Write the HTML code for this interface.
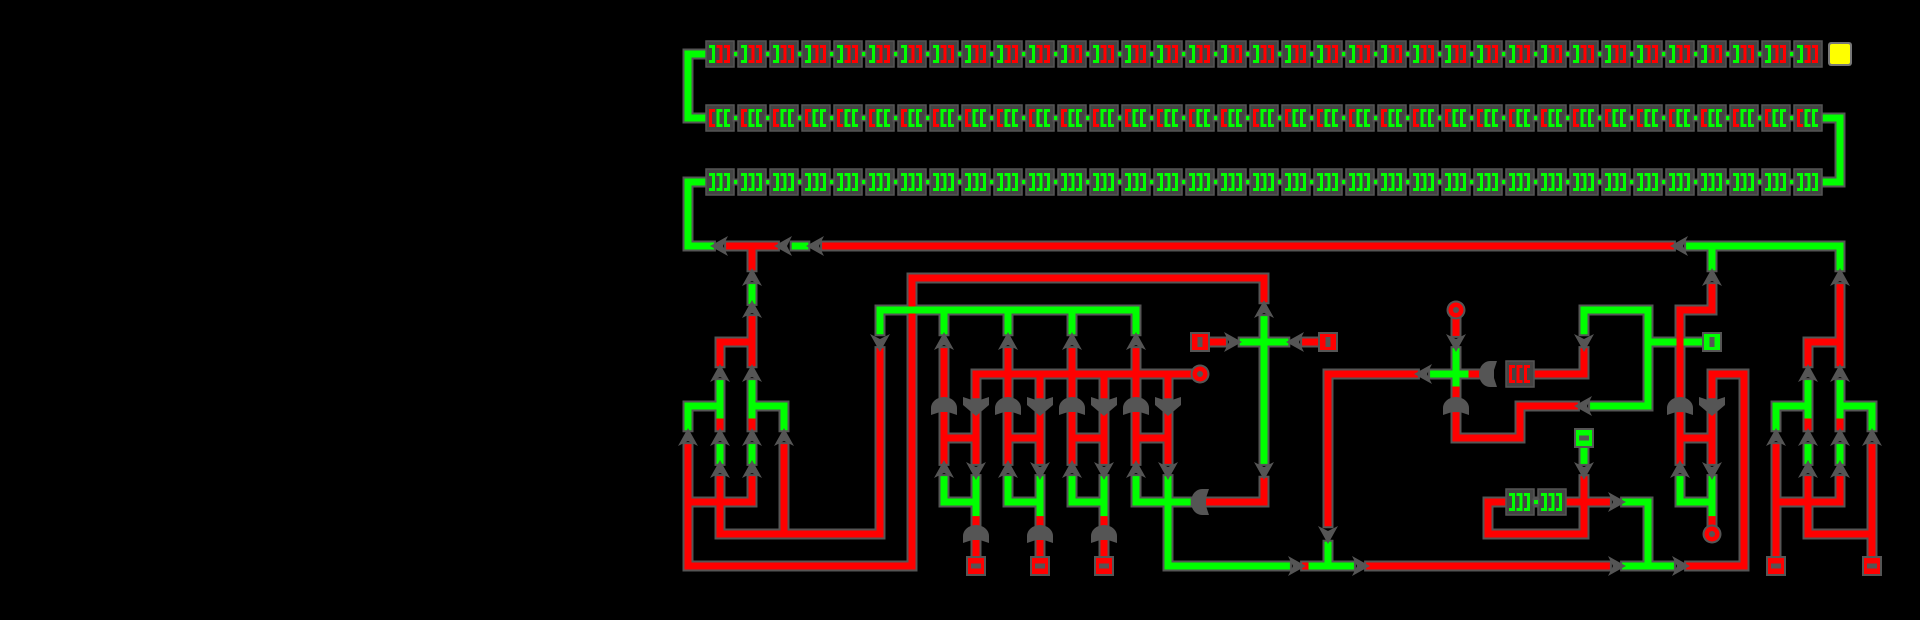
<!DOCTYPE html>
<html><head><meta charset="utf-8"><style>
html,body{margin:0;padding:0;background:#000;width:1920px;height:620px;overflow:hidden}
svg{display:block}
</style></head><body>
<svg id="s" width="1920" height="620" xmlns="http://www.w3.org/2000/svg"></svg>
<script>
const S=document.getElementById('s');const NS='http://www.w3.org/2000/svg';
const X=k=>688+32*k, Y=m=>246+32*m;
const R='#ff0000',G='#00ff00',GR='#555555';
function el(t,a){const e=document.createElementNS(NS,t);for(const k in a)e.setAttribute(k,a[k]);S.appendChild(e);return e;}
const W=[
[G,[[0.55,-6],[0,-6],[0,-4],[0.55,-4]]],
[G,[[35.45,-4],[36,-4],[36,-2],[35.45,-2]]],
[G,[[0.55,-2],[0,-2],[0,0],[0.7,0]]],
[R,[[1.3,0],[2.7,0]]],[R,[[2,0],[2,0.65]]],[G,[[3.35,0],[3.65,0]]],[R,[[4.3,0],[30.7,0]]],
[G,[[31.3,0],[36,0],[36,0.65]]],[G,[[32,0],[32,0.65]]],
[G,[[2,1.3],[2,1.7]]],[R,[[2,2.3],[2,3.65]]],[R,[[1,3.65],[1,3],[2,3]]],
[G,[[0,5.65],[0,5],[1,5]]],[G,[[1,4.3],[1,5.5]]],[R,[[1,5.5],[1,5.65]]],
[G,[[2,4.3],[2,5.5]]],[R,[[2,5.5],[2,5.65]]],[G,[[2,5],[3,5],[3,5.65]]],
[G,[[1,6.3],[1,6.7]]],[G,[[2,6.3],[2,6.7]]],
[R,[[0,6.3],[0,10],[7,10],[7,1],[18,1],[18,1.65]]],
[R,[[0,8],[2,8],[2,7.3]]],[R,[[1,7.3],[1,9],[6,9],[6,3.3]]],[R,[[3,6.3],[3,9]]],
[G,[[6,2.65],[6,2],[14,2],[14,2.65]]],[G,[[8,2],[8,2.65]]],[G,[[10,2],[10,2.65]]],[G,[[12,2],[12,2.65]]],
[R,[[9,4.65],[9,4],[15.7,4]]],[R,[[11,4],[11,4.65]]],[R,[[13,4],[13,4.65]]],[R,[[15,4],[15,4.65]]],
[G,[[14,7.3],[14,8],[15.6,8]]],[G,[[15,7.3],[15,10],[18.7,10]]],
[R,[[16.3,8],[18,8],[18,7.35]]],[G,[[18,6.7],[18,2.3]]],[G,[[17.35,3],[18.65,3]]],
[R,[[16.3,3],[16.7,3]]],[R,[[19.3,3],[19.7,3]]],
[R,[[20,8.65],[20,4],[22.7,4]]],[G,[[23.3,4],[24.5,4]]],[G,[[24,3.3],[24,4.5]]],[R,[[24,4.5],[24,4.7]]],
[R,[[24,2.25],[24,2.7]]],[R,[[24,5.3],[24,6],[26,6],[26,5],[27.7,5]]],
[G,[[28.3,5],[30,5],[30,2],[28,2],[28,2.65]]],[R,[[28,3.3],[28,4],[26.5,4]]],[R,[[24.5,4],[24.8,4]]],
[G,[[30,3],[31.7,3]]],
[G,[[28,6.3],[28,6.7]]],[R,[[28,7.3],[28,8]]],[R,[[25,8],[28.7,8]]],[R,[[25,8],[25,9],[28,9],[28,8]]],
[G,[[29.3,8],[30,8],[30,10]]],[G,[[29.3,10],[30.7,10]]],[R,[[21.3,10],[28.7,10]]],
[R,[[19.3,10],[19.5,10]]],[G,[[19.5,10],[20.7,10]]],[G,[[20,10],[20,9.35]]],
[R,[[31.3,10],[33,10],[33,4],[32,4],[32,4.65]]],
[R,[[32,1.3],[32,2],[31,2],[31,4.65]]],[R,[[31,5.3],[31,6.7]]],[R,[[32,5.3],[32,6.7]]],[R,[[31,6],[32,6]]],
[G,[[31,7.3],[31,8],[32,8]]],[G,[[32,7.3],[32,8.55]]],[R,[[32,8.55],[32,8.75]]],
[R,[[36,1.3],[36,3.65]]],[R,[[35,3.65],[35,3],[36,3]]],
[G,[[34,5.65],[34,5],[35,5]]],[G,[[35,4.3],[35,5.5]]],[R,[[35,5.5],[35,5.65]]],
[G,[[36,4.3],[36,5.5]]],[R,[[36,5.5],[36,5.65]]],[G,[[36,5],[37,5],[37,5.65]]],
[G,[[35,6.3],[35,6.7]]],[G,[[36,6.3],[36,6.7]]],
[R,[[34,6.3],[34,9.8]]],[R,[[35,7.3],[35,9],[37,9]]],[R,[[36,7.3],[36,8],[34,8]]],[R,[[37,6.3],[37,9.8]]]
];
for(const k of [8,10,12,14]){W.push([R,[[k,3.3],[k,6.7]]]);W.push([R,[[k+1,5.3],[k+1,6.7]]]);W.push([R,[[k,6],[k+1,6]]]);}
for(const k of [9,11,13]){W.push([G,[[k-1,7.3],[k-1,8],[k,8]]]);W.push([G,[[k,7.3],[k,8.55]]]);W.push([R,[[k,8.55],[k,8.75]]]);W.push([R,[[k,9.2],[k,9.8]]]);}
const pts=p=>p.map(q=>X(q[0])+','+Y(q[1])).join(' ');
for(const w of W)el('polyline',{points:pts(w[1]),fill:'none',stroke:GR,'stroke-width':11,'stroke-linecap':'square','stroke-linejoin':'miter'});
for(const w of W)el('polyline',{points:pts(w[1]),fill:'none',stroke:w[0],'stroke-width':7,'stroke-linecap':'square','stroke-linejoin':'miter'});
// arrows
function arrow(k,m,d){const x=X(k),y=Y(m);const a={u:0,r:90,d:180,l:270}[d];
el('polygon',{points:`${x},${y-10} ${x+10},${y+8} ${x},${y+3} ${x-10},${y+8}`,fill:GR,transform:`rotate(${a} ${x} ${y})`});}
function dome(k,m,d){const x=X(k),y=Y(m);const a={u:0,r:90,d:180,l:270}[d];
el('path',{d:`M${x-13} ${y+9} L${x-13} ${y+2} A13 11 0 0 1 ${x+13} ${y+2} L${x+13} ${y+9} L${x+4} ${y+6} L${x-4} ${y+6} Z`,fill:GR,transform:`rotate(${a} ${x} ${y})`});}
function vgate(k,m){const x=X(k),y=Y(m);
el('path',{d:`M${x-13} ${y-9} L${x-4} ${y-6} L${x+4} ${y-6} L${x+13} ${y-9} L${x+13} ${y-1} L${x} ${y+10} L${x-13} ${y-1} Z`,fill:GR});}
function box(k,m,c){const x=X(k),y=Y(m);el('rect',{x:x-10,y:y-10,width:20,height:20,fill:GR});el('rect',{x:x-8,y:y-8,width:16,height:16,fill:c});el('rect',{x:x-2.5,y:y-5,width:5,height:10,fill:GR});}
function hbox(k,m,c){const x=X(k),y=Y(m);el('rect',{x:x-10,y:y-10,width:20,height:20,fill:GR});el('rect',{x:x-8,y:y-8,width:16,height:16,fill:c});el('rect',{x:x-5,y:y-2.5,width:10,height:5,fill:GR});}
function circ(k,m){const x=X(k),y=Y(m);el('circle',{cx:x,cy:y,r:9.5,fill:GR});el('circle',{cx:x,cy:y,r:7.5,fill:R});el('circle',{cx:x,cy:y,r:3,fill:GR});}
[[1,0,'l'],[3,0,'l'],[4,0,'l'],[31,0,'l'],[2,1,'u'],[2,2,'u'],[1,4,'u'],[2,4,'u'],[0,6,'u'],[1,6,'u'],[2,6,'u'],[3,6,'u'],[1,7,'u'],[2,7,'u'],
[6,3,'d'],[8,3,'u'],[10,3,'u'],[12,3,'u'],[14,3,'u'],[18,2,'u'],[18,7,'d'],[17,3,'r'],[19,3,'l'],[19,10,'r'],[21,10,'r'],[20,9,'d'],
[23,4,'l'],[24,3,'d'],[28,5,'l'],[28,3,'d'],[28,7,'d'],[29,8,'r'],[29,10,'r'],[31,10,'r'],
[32,1,'u'],[31,7,'u'],[32,7,'d'],[36,1,'u'],[35,4,'u'],[36,4,'u'],[34,6,'u'],[35,6,'u'],[36,6,'u'],[37,6,'u'],[35,7,'u'],[36,7,'u']].forEach(a=>arrow(...a));
for(const k of [8,10,12,14]){arrow(k,7,'u');arrow(k+1,7,'d');dome(k,5,'u');vgate(k+1,5);}
for(const k of [9,11,13]){dome(k,9,'u');hbox(k,10,R);}
dome(16,8,'l');dome(24,5,'u');dome(25,4,'l');dome(31,5,'u');vgate(32,5);
box(16,3,R);box(20,3,R);box(32,3,G);hbox(28,6,G);hbox(34,10,R);hbox(37,10,R);
circ(16,4);circ(24,2);circ(32,9);
// blocks
function br(x,y,c,left){ // bracket 6 wide
 if(left){el('rect',{x:x,y:y-9,width:3,height:18,fill:c});}else{el('rect',{x:x+3,y:y-9,width:3,height:18,fill:c});}
 el('rect',{x:x,y:y-9,width:6,height:3,fill:c});el('rect',{x:x,y:y+6,width:6,height:3,fill:c});}
function block(x,y,cols,left){el('rect',{x:x-14,y:y-13,width:28,height:26,fill:'#444',stroke:'#555','stroke-width':1.5});
 cols.forEach((c,i)=>br(x-11+i*7.5,y,c,left));}
function dot(x,y){el('rect',{x:x-3.5,y:y-3.5,width:7,height:7,fill:GR});el('rect',{x:x-2,y:y-2,width:4,height:4,fill:G});}
for(let k=1;k<=35;k++){
 block(X(k),Y(-6),[G,R,R],false);block(X(k),Y(-4),[R,G,G],true);block(X(k),Y(-2),[G,G,G],false);
 if(k<35){dot(X(k)+16,Y(-6));dot(X(k)+16,Y(-4));dot(X(k)+16,Y(-2));}}
block(X(26),Y(4),[R,R,R],true);block(X(26),Y(8),[G,G,G],false);block(X(27),Y(8),[G,G,G],false);dot(X(26)+16,Y(8));
el('rect',{x:X(36)-12,y:Y(-6)-12,width:24,height:24,rx:3,fill:'#777'});
el('rect',{x:X(36)-10,y:Y(-6)-10,width:20,height:20,rx:2,fill:'#ffff00'});
</script>
</body></html>
